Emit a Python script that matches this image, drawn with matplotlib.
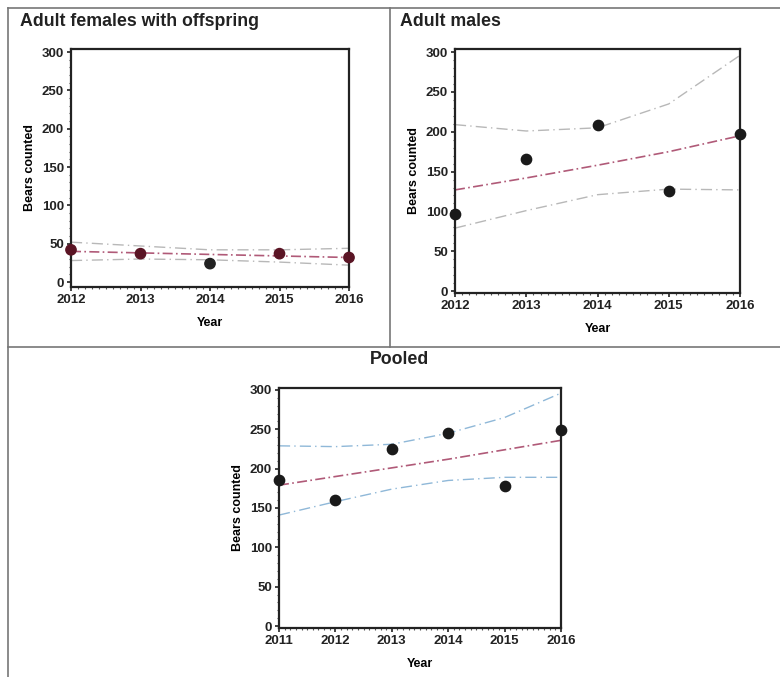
import matplotlib
matplotlib.use("Agg")
import matplotlib.pyplot as plt
from matplotlib.ticker import MultipleLocator
from matplotlib.lines import Line2D

plt.rcParams['font.family'] = ['Liberation Sans', 'DejaVu Sans']

# ---- data ----
fem_years = [2012, 2013, 2014, 2015, 2016]
fem_counts = [42, 37, 24, 37, 32]
fem_fit = [40, 38, 36, 34, 32]
fem_upper = [52, 47, 42, 42, 44]
fem_lower = [28, 30, 29, 26, 22]

male_years = [2012, 2013, 2014, 2015, 2016]
male_counts = [97, 166, 209, 125, 197]
male_fit = [127, 142, 158, 175, 195]
male_upper = [209, 201, 205, 235, 296]
male_lower = [79, 101, 121, 128, 127]

pool_years = [2011, 2012, 2013, 2014, 2015, 2016]
pool_counts = [185, 160, 225, 245, 178, 249]
pool_fit = [179, 190, 201, 212, 224, 236]
pool_upper = [229, 228, 231, 245, 265, 296]
pool_lower = [141, 158, 174, 185, 189, 189]

titles = ["Adult females with offspring", "Adult males", "Pooled"]
yticks = [0, 50, 100, 150, 200, 250, 300]

W, H = 780, 677
fig = plt.figure(figsize=(W / 100, H / 100), dpi=100)


def rect(l, t, r, b):
    return [l / W, 1 - b / H, (r - l) / W, (b - t) / H]


def panel(box, years, counts, fit, up, lo, ylim, ci_color, pt_colors):
    ax = fig.add_axes(rect(*box))
    ax.set_xlim(years[0], years[-1])
    ax.set_ylim(*ylim)
    ax.plot(years, up, color=ci_color, lw=1.0, ls=(0, (8, 3, 1, 3)))
    ax.plot(years, lo, color=ci_color, lw=1.0, ls=(0, (8, 3, 1, 3)))
    ax.plot(years, fit, color='#b05a78', lw=1.2, ls=(0, (6, 2, 1, 2)))
    ax.scatter(years, counts, s=55, c=pt_colors, zorder=5, clip_on=False)
    ax.set_xticks(years)
    ax.set_yticks(yticks)
    ax.yaxis.set_minor_locator(MultipleLocator(10))
    ax.xaxis.set_minor_locator(MultipleLocator(0.1))
    for s in ax.spines.values():
        s.set_linewidth(1.6)
        s.set_color('#222222')
    ax.tick_params(axis='both', which='major', labelsize=9.5, length=3,
                   width=1.2, pad=2, colors='#222222')
    ax.tick_params(axis='both', which='minor', length=1.5, width=0.8,
                   colors='#555555')
    for lab in ax.get_xticklabels() + ax.get_yticklabels():
        lab.set_fontweight('bold')
    ax.set_xlabel("Year", fontsize=9, fontweight='bold', labelpad=8)
    ax.set_ylabel("Bears counted", fontsize=9, fontweight='bold', labelpad=4)
    return ax


panel((71, 49, 349, 287), fem_years, fem_counts, fem_fit, fem_upper, fem_lower,
      (-6.5, 304), '#b8b8b8',
      ['#5a1424', '#5a1424', '#222222', '#5a1424', '#5a1424'])
panel((455, 49, 740, 293), male_years, male_counts, male_fit, male_upper, male_lower,
      (-2.5, 304), '#b8b8b8', '#1a1a1a')
panel((279, 388, 561, 628), pool_years, pool_counts, pool_fit, pool_upper, pool_lower,
      (-2.5, 302.5), '#8fb8d8', '#1a1a1a')

fig.text(20 / W, 1 - 22 / H, titles[0], fontsize=12.8, fontweight='bold',
         color='#222222', va='center', ha='left')
fig.text(400 / W, 1 - 22 / H, titles[1], fontsize=12.8, fontweight='bold',
         color='#222222', va='center', ha='left')
fig.text(400 / W, 1 - 360 / H, titles[2], fontsize=12.8, fontweight='bold',
         color='#222222', va='center', ha='center')

# panel borders
def hline(y, x0, x1):
    fig.add_artist(Line2D([x0 / W, x1 / W], [1 - y / H, 1 - y / H],
                          color='#777777', lw=1.2))

def vline(x, y0, y1):
    fig.add_artist(Line2D([x / W, x / W], [1 - y0 / H, 1 - y1 / H],
                          color='#777777', lw=1.2))

hline(8, 8, 780)
hline(347, 8, 780)
vline(8, 8, 677)
vline(390, 8, 347)

fig.savefig("out.png", dpi=100)
